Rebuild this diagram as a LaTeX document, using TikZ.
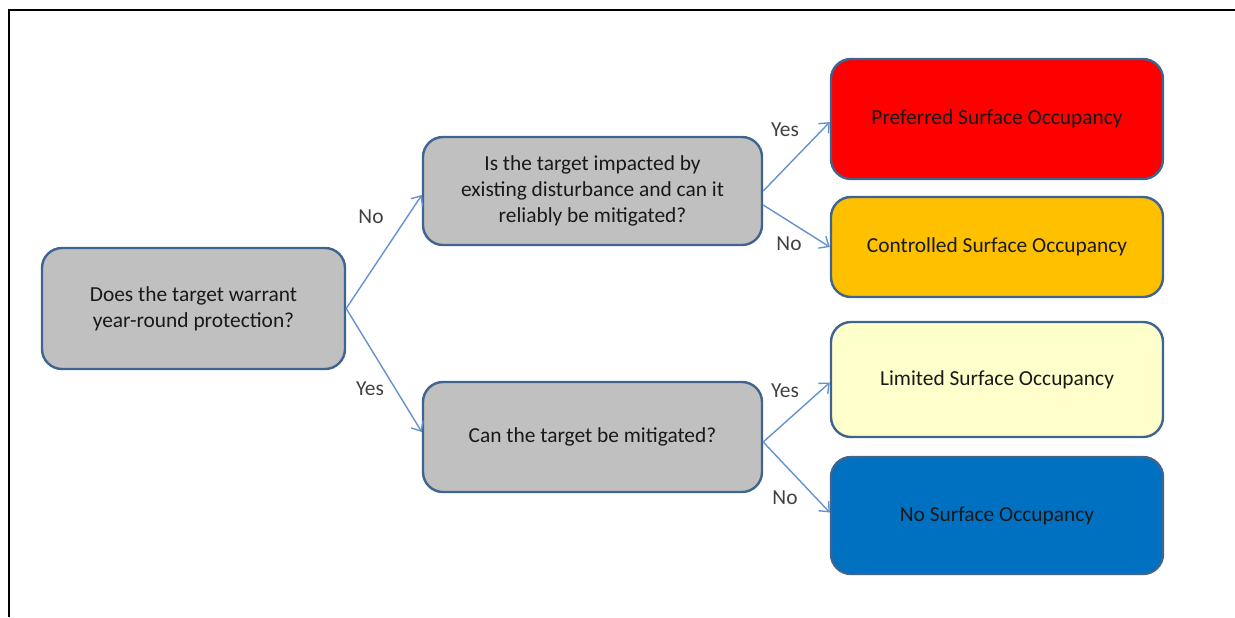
\documentclass[tikz,border=0pt]{standalone}
\usepackage{fontspec}
\setmainfont{Carlito}
\usetikzlibrary{positioning,calc,arrows.meta}

\definecolor{boxline}{HTML}{3F6490}
\definecolor{linkblue}{HTML}{6392CF}
\definecolor{qgray}{HTML}{C0C0C0}
\definecolor{psored}{HTML}{FF0000}
\definecolor{csoorange}{HTML}{FFC000}
\definecolor{lsoyellow}{HTML}{FFFFCC}
\definecolor{nsoblue}{HTML}{0070C0}

\tikzset{
  qbox/.style={draw=boxline, line width=1.2pt, rounded corners=10pt, fill=qgray,
               align=center, inner sep=0pt, text=black!90,
               font=\fontsize{10.7}{13}\selectfont},
  outbox/.style={qbox, minimum width=166pt},
  link/.style={draw=linkblue, line width=0.7pt, -{Straight Barb[length=4pt,width=7pt]}},
  lbl/.style={inner sep=0pt, text=black!75, font=\fontsize{10.7}{13}\selectfont}
}

\begin{document}
\begin{tikzpicture}[x=0.5pt, y=-0.5pt]
\useasboundingbox (0,0) rectangle (1235,617);
\draw[line width=1pt] (9,617) |- (1235,10);

% questions
\node[qbox, minimum width=151.5pt, minimum height=60.5pt] (warrant) at (193.5,308.5)
  {Does the target warrant\\year-round protection?};
\node[qbox, minimum width=169.5pt, minimum height=54pt] (impacted) at (592.5,191)
  {Is the target impacted by\\existing disturbance and can it\\reliably be mitigated?};
\node[qbox, minimum width=169.5pt, minimum height=55pt] (mitigated) at (592.5,437)
  {Can the target be mitigated?};

% outcomes
\node[outbox, fill=psored, minimum height=60pt] (pso) at (997,119) {Preferred Surface Occupancy};
\node[outbox, fill=csoorange, minimum height=50pt] (cso) at (997,247) {Controlled Surface Occupancy};
\node[outbox, fill=lsoyellow, minimum height=57.5pt] (lso) at (997,379.5) {Limited Surface Occupancy};
\node[outbox, fill=nsoblue, minimum height=58.5pt] (nso) at (997,515.5) {No Surface Occupancy};

% connectors
\draw[link] (warrant.east) -- ([yshift=-2pt]impacted.west);
\draw[link] (warrant.east) -- ([yshift=2.5pt]mitigated.west);
\draw[link] (impacted.east) -- ([yshift=-1.5pt]pso.west);
\draw[link] ([yshift=-7pt]impacted.east) -- (cso.west);
\draw[link] ([yshift=-2.5pt]mitigated.east) -- ([yshift=-1.5pt]lso.west);
\draw[link] ([yshift=-2.5pt]mitigated.east) -- ([yshift=1.5pt]nso.west);

% labels
\node[lbl] (no1) at (371,217) {No};
\node[lbl] (yes1) at (370,389) {Yes};
\node[lbl] (yes2) at (785,130) {Yes};
\node[lbl] (no2) at (789,244) {No};
\node[lbl] (yes3) at (785,391) {Yes};
\node[lbl] (no3) at (785,498) {No};
\end{tikzpicture}
\end{document}
